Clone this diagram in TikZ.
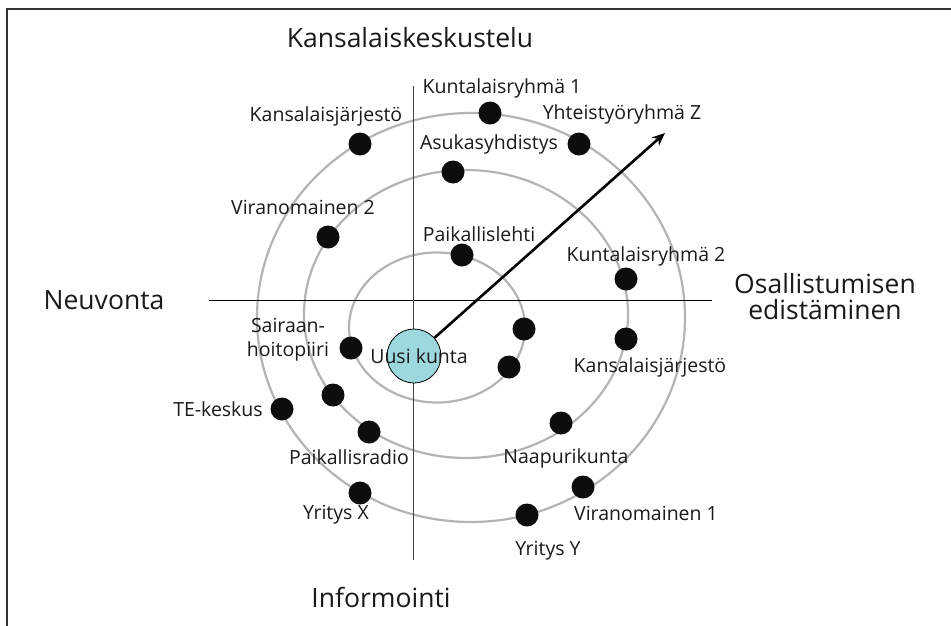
\documentclass[tikz,border=0pt]{standalone}
\usepackage{fontspec}
\setmainfont{Open Sans}
\usetikzlibrary{arrows.meta}
\definecolor{ring}{HTML}{B4B4B4}
\definecolor{txt}{HTML}{1A1A1A}
\definecolor{ukblue}{HTML}{9DD8DF}
\tikzset{
  ringline/.style={draw=ring, line width=2.2pt},
  axisline/.style={draw=black!75, line width=1pt},
  dot/.style={circle, fill=black!95, minimum size=23pt, inner sep=0pt},
  lbl/.style={text=txt, font=\fontsize{19.5}{24}\selectfont, inner sep=0pt},
  biglbl/.style={text=txt, font=\fontsize{26.5}{26}\selectfont, inner sep=0pt},
  arrowline/.style={draw=black, line width=2.6pt, -{Stealth[length=13pt,width=11pt]}},
}
\begin{document}
\begin{tikzpicture}[x=1pt,y=-1pt]
\useasboundingbox (0,0) rectangle (951,625);
\fill[white] (0,0) rectangle (951,625);
% frame (partly cut off)
\draw[black!80, line width=1.2pt] (7,630) -- (7,9) -- (960,9);
% rings
\draw[ringline] (471,317.5) ellipse [x radius=214, y radius=204.5];
\draw[ringline] (466,314) ellipse [x radius=162, y radius=144];
\draw[ringline] (437,327.5) ellipse [x radius=88, y radius=75];
% axes
\coordinate (hl) at (209,300);
\coordinate (hr) at (712,300);
\coordinate (vt) at (413,86);
\coordinate (vb) at (413,560);
\draw[black, line width=1pt] (hl) -- (hr);
\draw[axisline] (vt) -- (vb);
% centre
\node[circle, draw=black, line width=0.8pt, fill=ukblue, minimum size=54pt, inner sep=0pt] (uk) at (414,356) {};
\node[lbl] (ukt) at (419,356) {Uusi kunta};
\coordinate (tip) at (665,133);
\draw[arrowline] (uk) -- (tip);
% dots
\node[dot] (d1) at (490,113) {};
\node[dot] (d2) at (579,144) {};
\node[dot] (d3) at (360,144) {};
\node[dot] (d4) at (453,172) {};
\node[dot] (d5) at (328,237) {};
\node[dot] (d6) at (462,255) {};
\node[dot] (d7) at (626,279) {};
\node[dot] (d8) at (626,339) {};
\node[dot] (d9) at (524,329) {};
\node[dot] (d10) at (509,367) {};
\node[dot] (d11) at (351,348) {};
\node[dot] (d12) at (333,395) {};
\node[dot] (d13) at (282,409) {};
\node[dot] (d14) at (369,432) {};
\node[dot] (d15) at (360,493) {};
\node[dot] (d16) at (561,423) {};
\node[dot] (d17) at (583,487) {};
\node[dot] (d18) at (527,515) {};
% big labels
\node[biglbl] (kk) at (410,38) {Kansalaiskeskustelu};
\node[biglbl] (ne) at (104,300) {Neuvonta};
\node[biglbl, align=center] (oe) at (825,297) {Osallistumisen\\edistäminen};
\node[biglbl] (inf) at (381,597) {Informointi};
% small labels
\node[lbl] (l1) at (502,88) {Kuntalaisryhmä 1};
\node[lbl] (l2) at (622,114) {Yhteistyöryhmä Z};
\node[lbl] (l3) at (326,116) {Kansalaisjärjestö};
\node[lbl] (l4) at (489,144) {Asukasyhdistys};
\node[lbl] (l5) at (303,207) {Viranomainen 2};
\node[lbl] (l6) at (479,234) {Paikallislehti};
\node[lbl] (l7) at (646,256) {Kuntalaisryhmä 2};
\node[lbl] (l8) at (650,367) {Kansalaisjärjestö};
\node[lbl, align=center] (l9) at (288,340) {Sairaan-\\hoitopiiri};
\node[lbl] (l10) at (218,409) {TE-keskus};
\node[lbl] (l11) at (349,457) {Paikallisradio};
\node[lbl] (l12) at (566,458) {Naapurikunta};
\node[lbl] (l13) at (336,515) {Yritys X};
\node[lbl] (l14) at (646,513) {Viranomainen 1};
\node[lbl] (l15) at (548,551) {Yritys Y};
\end{tikzpicture}
\end{document}
